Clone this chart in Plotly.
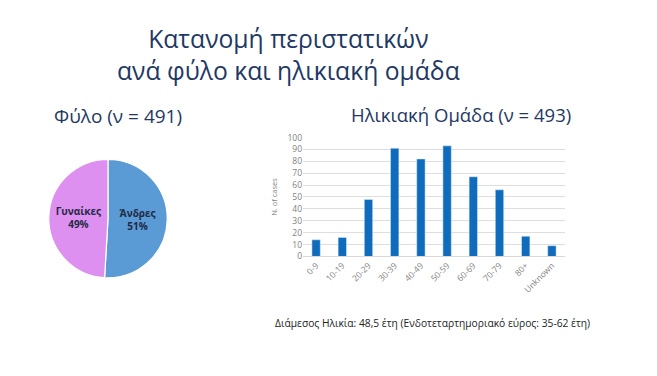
import plotly.graph_objects as go

W, H = 657, 376

sex_labels = ["Άνδρες", "Γυναίκες"]
sex_values = [250, 241]

age_groups = ["0-9", "10-19", "20-29", "30-39", "40-49", "50-59", "60-69", "70-79", "80+", "Unknown"]
age_cases = [14, 16, 48, 91, 82, 93, 67, 56, 17, 9]

title_text = "Κατανομή περιστατικών<br>ανά φύλο και ηλικιακή ομάδα"
pie_title = "Φύλο (ν = 491)"
bar_title = "Ηλικιακή Ομάδα (ν = 493)"
footnote = "Διάμεσος Ηλικία: 48,5 έτη (Ενδοτεταρτημοριακό εύρος: 35-62 έτη)"

def px(x):
    return x / W

def py(y):
    return 1 - y / H

fig = go.Figure()

fig.add_trace(go.Pie(
    labels=sex_labels,
    values=sex_values,
    sort=False,
    direction="clockwise",
    rotation=0,
    marker=dict(colors=["#5B9BD5", "#DD90F0"], line=dict(color="white", width=1.2)),
    texttemplate="<b>%{label}<br>%{percent:.0%}</b>",
    textposition="inside",
    insidetextorientation="horizontal",
    textfont=dict(family="Open Sans", size=10, color="#1F2A44"),
    domain=dict(x=[px(47), px(169)], y=[py(280), py(158)]),
    showlegend=False,
    hoverinfo="label+value+percent",
))

fig.add_trace(go.Bar(
    x=age_groups,
    y=age_cases,
    marker=dict(color="#0F6CBD"),
    width=0.32,
    xaxis="x",
    yaxis="y",
    showlegend=False,
))

fig.update_layout(
    width=W, height=H,
    margin=dict(l=0, r=0, t=0, b=0),
    paper_bgcolor="white",
    plot_bgcolor="white",
    xaxis=dict(
        domain=[px(303), px(565)],
        anchor="y",
        tickangle=-45,
        tickfont=dict(family="Open Sans", size=8.5, color="#7F7F7F"),
        showline=True, linecolor="#D9D9D9", linewidth=1,
        showgrid=False, ticks="",
    ),
    yaxis=dict(
        domain=[py(258), py(135.5)],
        anchor="x",
        range=[0, 100],
        dtick=10,
        tickfont=dict(family="Open Sans", size=8.5, color="#7F7F7F"),
        showgrid=True, gridcolor="#DEDEDE", gridwidth=1,
        zeroline=False, showline=False, ticks="",
        title=dict(text="N. of cases", font=dict(family="Open Sans", size=7.5, color="#7F7F7F"), standoff=8),
    ),
    annotations=[
        dict(text=title_text, x=px(288), y=py(50), xref="paper", yref="paper",
             showarrow=False, xanchor="center", yanchor="middle",
             font=dict(family="Open Sans", size=24.7, color="#1F3864")),
        dict(text=pie_title, x=px(118), y=py(113), xref="paper", yref="paper",
             showarrow=False, xanchor="center", yanchor="middle",
             font=dict(family="Open Sans", size=19, color="#1F3864")),
        dict(text=bar_title, x=px(461), y=py(112), xref="paper", yref="paper",
             showarrow=False, xanchor="center", yanchor="middle",
             font=dict(family="Open Sans", size=18.5, color="#1F3864")),
        dict(text=footnote, x=px(273), y=py(327), xref="paper", yref="paper",
             showarrow=False, xanchor="left", yanchor="middle",
             font=dict(family="Open Sans", size=10.25, color="#222222")),
    ],
)

fig.write_html("out.html", config={"displayModeBar": False},
               post_script="document.body.style.margin='0px';document.body.style.overflow='hidden';")
